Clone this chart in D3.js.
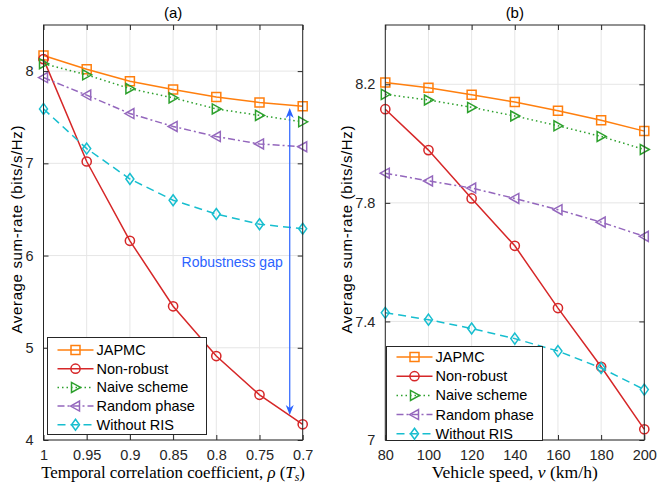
<!DOCTYPE html>
<html><head><meta charset="utf-8">
<script src="https://cdn.jsdelivr.net/npm/d3@7"></script>
<style>body{margin:0;background:#fff}svg{display:block}</style>
</head><body>
<svg id="chart" width="657" height="483"></svg>
<script>
// ---------- data ----------
const rhoValues = [1, 0.95, 0.9, 0.85, 0.8, 0.75, 0.7];
const rhoTickLabels = ["1", "0.95", "0.9", "0.85", "0.8", "0.75", "0.7"];
const speedValues = [80, 100, 120, 140, 160, 180, 200];
const speedTickLabels = ["80", "100", "120", "140", "160", "180", "200"];
const yTicksA = [4, 5, 6, 7, 8];
const yTicksB = [7, 7.4, 7.8, 8.2];
const seriesNames = ["JAPMC", "Non-robust", "Naive scheme", "Random phase", "Without RIS"];

const japmcA     = [8.17, 8.02, 7.89, 7.80, 7.72, 7.66, 7.62];
const nonRobustA = [8.13, 7.02, 6.16, 5.45, 4.91, 4.49, 4.17];
const naiveA     = [8.08, 7.96, 7.81, 7.71, 7.59, 7.52, 7.45];
const randomA    = [7.93, 7.74, 7.54, 7.40, 7.29, 7.21, 7.18];
const noRisA     = [7.59, 7.16, 6.83, 6.60, 6.45, 6.34, 6.29];

const japmcB     = [8.206, 8.188, 8.165, 8.140, 8.111, 8.079, 8.042];
const nonRobustB = [8.116, 7.978, 7.815, 7.655, 7.445, 7.247, 7.036];
const naiveB     = [8.166, 8.147, 8.122, 8.093, 8.060, 8.024, 7.980];
const randomB    = [7.900, 7.874, 7.850, 7.815, 7.777, 7.735, 7.687];
const noRisB     = [7.429, 7.406, 7.376, 7.342, 7.300, 7.243, 7.170];

const gapArrowX = 0.715, gapArrowTop = 7.60, gapArrowBottom = 4.27;
const gapLabel = "Robustness gap";

// ---------- styles ----------
const styles = [
  {color: "#ff7f0e", dash: null,          marker: "square"},
  {color: "#d62728", dash: null,          marker: "circle"},
  {color: "#2ca02c", dash: "1.5,3",       marker: "triRight"},
  {color: "#9467bd", dash: "7,3,2,3",     marker: "triLeft"},
  {color: "#17becf", dash: "8,5",         marker: "diamond"}
];
const axisColor = "#262626";
const gridColor = "#e6e6e6";
const sans = "Arial, 'Liberation Sans', Helvetica, sans-serif";
const serif = "'Liberation Serif', 'Times New Roman', serif";

function markerPath(type) {
  switch (type) {
    case "square": return "M-4.5,-4.5H4.5V4.5H-4.5Z";
    case "circle": return "M4.6,0A4.6,4.6 0 1,1 -4.6,0A4.6,4.6 0 1,1 4.6,0Z";
    case "triRight": return "M5,0L-4,-5L-4,5Z";
    case "triLeft": return "M-5,0L4,-5L4,5Z";
    case "diamond": return "M0,-5.5L4,0L0,5.5L-4,0Z";
  }
}

const svg = d3.select("#chart");

function drawPanel(cfg) {
  const {x0, x1, y0, y1} = cfg.box;
  const xs = d3.scaleLinear().domain(cfg.xDomain).range([x0, x1]);
  const ys = d3.scaleLinear().domain(cfg.yDomain).range([y1, y0]);
  const g = svg.append("g");

  // grid
  g.append("g").selectAll("line").data(cfg.xTicks).join("line")
    .attr("x1", d => xs(d)).attr("x2", d => xs(d)).attr("y1", y0).attr("y2", y1)
    .attr("stroke", gridColor).attr("stroke-width", 1);
  g.append("g").selectAll("line").data(cfg.yTicks).join("line")
    .attr("y1", d => ys(d)).attr("y2", d => ys(d)).attr("x1", x0).attr("x2", x1)
    .attr("stroke", gridColor).attr("stroke-width", 1);

  // series
  cfg.series.forEach((vals, i) => {
    const st = styles[i];
    const pts = cfg.xValues.map((xv, j) => [xv, vals[j]]);
    g.append("path").datum(pts)
      .attr("d", d3.line().x(d => xs(d[0])).y(d => ys(d[1])))
      .attr("fill", "none").attr("stroke", st.color).attr("stroke-width", 1.5)
      .attr("stroke-dasharray", st.dash);
    g.append("g").selectAll("path").data(pts).join("path")
      .attr("transform", d => `translate(${xs(d[0])},${ys(d[1])})`)
      .attr("d", markerPath(st.marker))
      .attr("fill", "none").attr("stroke", st.color).attr("stroke-width", 1.5);
  });

  if (cfg.extra) cfg.extra(g, xs, ys);

  // axes
  const axB = d3.axisBottom(xs).tickValues(cfg.xTicks).tickFormat((d, i) => cfg.xTickLabels[i]).tickSizeInner(-5).tickSizeOuter(0).tickPadding(10);
  const axT = d3.axisTop(xs).tickValues(cfg.xTicks).tickFormat("").tickSizeInner(-5).tickSizeOuter(0);
  const axL = d3.axisLeft(ys).tickValues(cfg.yTicks).tickFormat(cfg.yFormat).tickSizeInner(-5).tickSizeOuter(0).tickPadding(10);
  const axR = d3.axisRight(ys).tickValues(cfg.yTicks).tickFormat("").tickSizeInner(-5).tickSizeOuter(0);
  [[axB, `translate(0,${y1})`], [axT, `translate(0,${y0})`], [axL, `translate(${x0},0)`], [axR, `translate(${x1},0)`]].forEach(([ax, tr]) => {
    const a = g.append("g").attr("transform", tr).call(ax);
    a.select(".domain").remove();
    a.selectAll("line").attr("stroke", axisColor).attr("stroke-width", 1);
    a.selectAll("text").attr("fill", axisColor).style("font-family", sans).style("font-size", "14.5px");
  });
  g.append("rect").attr("x", x0).attr("y", y0).attr("width", x1 - x0).attr("height", y1 - y0)
    .attr("fill", "none").attr("stroke", axisColor).attr("stroke-width", 1);

  // title
  g.append("text").attr("x", (x0 + x1) / 2).attr("y", 18).attr("text-anchor", "middle")
    .attr("fill", "#000").style("font-family", sans).style("font-size", "15px").text(cfg.title);

  // y label
  g.append("text").attr("transform", `translate(${cfg.yLabelX},${(y0 + y1) / 2 - 3}) rotate(-90)`)
    .attr("text-anchor", "middle").attr("fill", "#000")
    .attr("textLength", 208).attr("lengthAdjust", "spacing")
    .style("font-family", sans).style("font-size", "15px").text("Average sum-rate (bits/s/Hz)");

  // x label
  const xl = g.append("text").attr("x", (x0 + x1) / 2).attr("y", 478).attr("text-anchor", "middle")
    .attr("fill", "#000").style("font-family", serif).style("font-size", "15px");
  cfg.xLabel(xl);
  const w = xl.node().getComputedTextLength();
  xl.style("font-size", (15 * cfg.xLabelWidth / w).toFixed(2) + "px");

  // legend
  const L = cfg.legend;
  const lg = g.append("g");
  lg.append("rect").attr("x", L.x).attr("y", L.y).attr("width", L.w).attr("height", L.h)
    .attr("fill", "#fff").attr("stroke", axisColor).attr("stroke-width", 1);
  seriesNames.forEach((name, i) => {
    const st = styles[i];
    const yy = L.y + L.first + i * L.step;
    lg.append("line").attr("x1", L.x + 10).attr("x2", L.x + 46).attr("y1", yy).attr("y2", yy)
      .attr("stroke", st.color).attr("stroke-width", 1.5).attr("stroke-dasharray", st.dash);
    lg.append("path").attr("transform", `translate(${L.x + 28},${yy})`).attr("d", markerPath(st.marker))
      .attr("fill", "none").attr("stroke", st.color).attr("stroke-width", 1.5);
    lg.append("text").attr("x", L.x + 49).attr("y", yy + 5).attr("fill", "#000")
      .style("font-family", sans).style("font-size", "14.5px").text(name);
  });
}

drawPanel({
  box: {x0: 43.5, x1: 302.7, y0: 25, y1: 440},
  xDomain: [1, 0.7], yDomain: [4, 8.5],
  xValues: rhoValues, xTicks: rhoValues, xTickLabels: rhoTickLabels,
  yTicks: yTicksA, yFormat: d3.format("d"),
  series: [japmcA, nonRobustA, naiveA, randomA, noRisA],
  title: "(a)", yLabelX: 22,
  xLabelWidth: 264,
  xLabel: t => {
    t.append("tspan").text("Temporal correlation coefficient, ");
    t.append("tspan").style("font-style", "italic").text("ρ");
    t.append("tspan").text(" (");
    t.append("tspan").style("font-style", "italic").text("T");
    t.append("tspan").style("font-style", "italic").attr("baseline-shift", "-25%").style("font-size", "70%").text("s");
    t.append("tspan").text(")");
  },
  legend: {x: 47.5, y: 337.5, w: 159, h: 97, first: 12.5, step: 18.7},
  extra: (g, xs, ys) => {
    const blue = "#2b63ff";
    const ax = xs(gapArrowX), yt = ys(gapArrowTop), yb = ys(gapArrowBottom);
    g.append("line").attr("x1", ax).attr("x2", ax).attr("y1", yt + 6).attr("y2", yb - 6)
      .attr("stroke", blue).attr("stroke-width", 1.2);
    g.append("path").attr("d", `M${ax},${yt}L${ax - 4},${yt + 10}L${ax},${yt + 7}L${ax + 4},${yt + 10}Z`).attr("fill", blue);
    g.append("path").attr("d", `M${ax},${yb}L${ax - 4},${yb - 10}L${ax},${yb - 7}L${ax + 4},${yb - 10}Z`).attr("fill", blue);
    g.append("text").attr("x", ax - 7).attr("y", 267).attr("text-anchor", "end").attr("fill", blue)
      .style("font-family", sans).style("font-size", "14px").text(gapLabel);
  }
});

drawPanel({
  box: {x0: 385.3, x1: 644.3, y0: 25, y1: 440},
  xDomain: [80, 200], yDomain: [7, 8.4],
  xValues: speedValues, xTicks: speedValues, xTickLabels: speedTickLabels,
  yTicks: yTicksB, yFormat: d => (d === 7 ? "7" : d3.format(".1f")(d)),
  series: [japmcB, nonRobustB, naiveB, randomB, noRisB],
  title: "(b)", yLabelX: 352,
  xLabelWidth: 166,
  xLabel: t => {
    t.append("tspan").text("Vehicle speed, ");
    t.append("tspan").style("font-style", "italic").text("v");
    t.append("tspan").text(" (km/h)");
  },
  legend: {x: 386.5, y: 346.5, w: 156, h: 94, first: 10.5, step: 19.2}
});
</script>
</body></html>
